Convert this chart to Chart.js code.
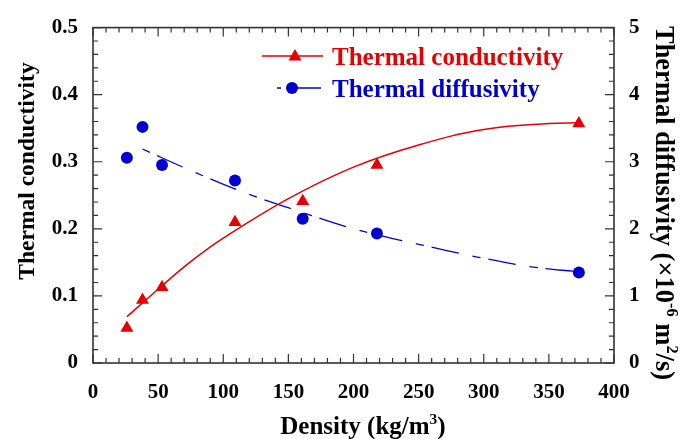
<!DOCTYPE html>
<html>
<head>
<meta charset="utf-8">
<script src="https://cdn.jsdelivr.net/npm/chart.js@4.4.1/dist/chart.umd.min.js"></script>
<style>
  html, body { margin: 0; padding: 0; background: #fff; }
</style>
</head>
<body>
<canvas id="chart" width="683" height="439"></canvas>
<script>
// measured samples
var density      = [26, 38, 53, 109, 161, 218, 373]
var conductivity = [0.052, 0.094, 0.113, 0.210, 0.241, 0.295, 0.357]
var diffusivity  = [3.06, 3.52, 2.95, 2.72, 2.15, 1.93, 1.35]

// fitted curves
var condFitX = [26, 50, 75, 100, 150, 200, 250, 300, 350, 373]
var condFitY = [0.069, 0.110, 0.151, 0.186, 0.245, 0.292, 0.325, 0.348, 0.357, 0.358]
var diffFitX = [38, 75, 115, 160, 204, 250, 295, 338, 373]
var diffFitY = [3.19, 2.87, 2.55, 2.25, 1.98, 1.77, 1.58, 1.43, 1.36]

var seriesNames = ['Thermal conductivity', 'Thermal diffusivity']

var RED  = '#e60000'
var BLUE = '#0000d2'
var SERIF = '"Liberation Serif", "Times New Roman", serif'

const pts = (xs, ys) => xs.map((x, i) => ({x: x, y: ys[i]}))

var tickFont = {family: SERIF, size: 21, weight: 'bold'}

// draw text with superscript parts, centred on (0,0)
function richText(ctx, parts, size) {
  var widths = parts.map(function(p) {
    ctx.font = 'bold ' + (p.sup ? size * 0.62 : size) + 'px ' + SERIF
    return ctx.measureText(p.t).width
  })
  var total = widths.reduce((a, b) => a + b, 0)
  var x = -total / 2
  ctx.textAlign = 'left'
  ctx.textBaseline = 'alphabetic'
  parts.forEach(function(p, i) {
    ctx.font = 'bold ' + (p.sup ? size * 0.62 : size) + 'px ' + SERIF
    ctx.fillText(p.t, x, p.sup ? -size * 0.42 : 0)
    x += widths[i]
  })
}

var frame = {
  id: 'frame',
  afterDraw: function(chart) {
    var ctx = chart.ctx, a = chart.chartArea
    var sx = chart.scales.x, sy = chart.scales.y, sy2 = chart.scales.y2
    var i, p, len
    ctx.save()
    ctx.strokeStyle = '#333'
    ctx.lineWidth = 1.6
    ctx.strokeRect(a.left, a.top, a.right - a.left, a.bottom - a.top)
    ctx.lineWidth = 1.2
    ctx.beginPath()
    for (i = 0; i <= 40; i++) {
      p = sx.getPixelForValue(i * 10)
      len = i % 5 === 0 ? 9 : 5
      ctx.moveTo(p, a.bottom); ctx.lineTo(p, a.bottom - len)
      ctx.moveTo(p, a.top); ctx.lineTo(p, a.top + len)
    }
    for (i = 0; i <= 25; i++) {
      p = sy.getPixelForValue(i * 0.02)
      len = i % 5 === 0 ? 9 : 5
      ctx.moveTo(a.left, p); ctx.lineTo(a.left + len, p)
    }
    for (i = 0; i <= 25; i++) {
      p = sy2.getPixelForValue(i * 0.2)
      len = i % 5 === 0 ? 9 : 5
      ctx.moveTo(a.right, p); ctx.lineTo(a.right - len, p)
    }
    ctx.stroke()

    // axis titles
    ctx.fillStyle = '#000'
    ctx.save()
    ctx.translate(363, 434)
    richText(ctx, [{t: 'Density (kg/m'}, {t: '3', sup: true}, {t: ')'}], 25)
    ctx.restore()

    ctx.save()
    ctx.translate(34, 171)
    ctx.rotate(-Math.PI / 2)
    richText(ctx, [{t: 'Thermal conductivity'}], 23.5)
    ctx.restore()

    ctx.save()
    ctx.translate(656, 203)
    ctx.rotate(Math.PI / 2)
    richText(ctx, [{t: 'Thermal diffusivity (\u00d710'}, {t: '-6', sup: true},
                   {t: ' m'}, {t: '2', sup: true}, {t: '/s)'}], 26.5)
    ctx.restore()

    // legend
    ctx.lineWidth = 1.5
    ctx.strokeStyle = RED
    ctx.beginPath(); ctx.moveTo(262, 56); ctx.lineTo(323, 56); ctx.stroke()
    ctx.fillStyle = RED
    ctx.beginPath()
    ctx.moveTo(295, 49); ctx.lineTo(301.5, 60.5); ctx.lineTo(288.5, 60.5)
    ctx.closePath(); ctx.fill()
    ctx.font = 'bold 25px ' + SERIF
    ctx.textAlign = 'left'
    ctx.textBaseline = 'alphabetic'
    ctx.fillText(seriesNames[0], 332, 65)

    ctx.strokeStyle = BLUE
    ctx.lineWidth = 1.3
    ctx.beginPath(); ctx.moveTo(277, 88); ctx.lineTo(281, 88)
    ctx.moveTo(287, 88); ctx.lineTo(321, 88); ctx.stroke()
    ctx.fillStyle = BLUE
    ctx.beginPath(); ctx.arc(292, 88, 6, 0, Math.PI * 2); ctx.fill()
    ctx.fillText(seriesNames[1], 332, 97)
    ctx.restore()
  }
}

var chart = new Chart(document.getElementById('chart'), {
  type: 'scatter'
, data: {
    datasets: [
      { label: seriesNames[0], data: pts(density, conductivity), yAxisID: 'y'
      , pointStyle: 'triangle', pointRadius: 7.5, backgroundColor: RED, borderWidth: 0
      , showLine: false }
    , { label: seriesNames[1], data: pts(density, diffusivity), yAxisID: 'y2'
      , pointStyle: 'circle', pointRadius: 6, backgroundColor: BLUE, borderWidth: 0
      , showLine: false }
    , { label: 'cond fit', data: pts(condFitX, condFitY), yAxisID: 'y'
      , showLine: true, pointRadius: 0, borderColor: RED, borderWidth: 1.5
      , tension: 0.4 }
    , { label: 'diff fit', data: pts(diffFitX, diffFitY), yAxisID: 'y2'
      , showLine: true, pointRadius: 0, borderColor: BLUE, borderWidth: 1.3
      , borderDash: [8, 8, 28, 14], tension: 0.4 }
    ]
  }
, options: {
    responsive: false
  , animation: false
  , layout: {padding: {top: 21, left: 0, right: 0, bottom: 0}}
  , plugins: {legend: {display: false}, tooltip: {enabled: false}}
  , scales: {
      x: {
        type: 'linear', position: 'bottom', min: 0, max: 400
      , grid: {display: false, drawTicks: false}, border: {display: false}
      , ticks: {stepSize: 50, font: tickFont, color: '#000', padding: 17, maxRotation: 0}
      , afterFit: s => { s.height = 76 }
      }
    , y: {
        position: 'left', min: 0, max: 0.5
      , grid: {display: false, drawTicks: false}, border: {display: false}
      , ticks: {stepSize: 0.1, font: tickFont, color: '#000', padding: 15}
      , afterFit: s => { s.width = 93 }
      }
    , y2: {
        position: 'right', min: 0, max: 5
      , grid: {display: false, drawTicks: false}, border: {display: false}
      , ticks: {stepSize: 1, font: tickFont, color: '#000', padding: 15}
      , afterFit: s => { s.width = 69 }
      }
    }
  }
, plugins: [frame]
})
</script>
</body>
</html>
